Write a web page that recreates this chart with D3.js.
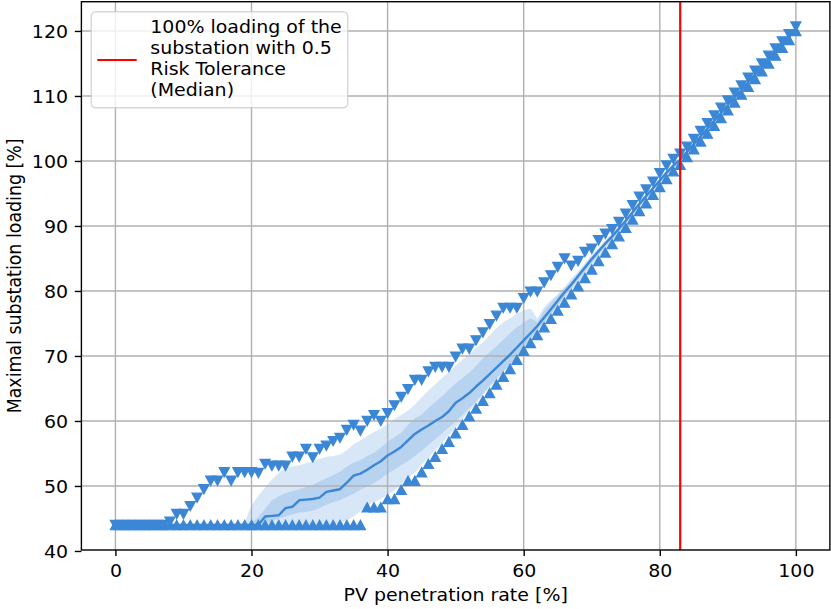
<!DOCTYPE html>
<html>
<head>
<meta charset="utf-8">
<script src="https://cdn.jsdelivr.net/npm/d3@7"></script>
<style>
  html, body { margin: 0; padding: 0; background: #ffffff; }
  svg { display: block; font-family: "DejaVu Sans", sans-serif; }
</style>
</head>
<body>
<svg id="chart" width="831" height="609"></svg>
<script>
// PV penetration rate [%] (x categories)
const pvRate = d3.range(0, 101);

// Maximal substation loading [%] across scenarios, per penetration rate
const maxLoad = [
  44.0, 44.0, 44.0, 44.0, 44.0, 44.0, 44.0, 44.0, 44.5, 45.7,
  45.7, 46.9, 48.2, 49.5, 50.8, 50.8, 52.1, 50.8, 52.1, 52.1,
  52.1, 52.0, 53.4, 53.1, 53.1, 53.1, 54.5, 54.5, 55.7, 54.4,
  55.7, 56.2, 56.9, 57.4, 58.6, 59.4, 58.5, 60.0, 60.9, 60.0,
  61.2, 62.4, 63.7, 64.9, 66.3, 66.3, 67.6, 68.3, 68.3, 68.3,
  69.9, 71.1, 71.1, 72.4, 73.6, 74.9, 76.2, 77.4, 77.4, 77.4,
  78.9, 79.9, 79.9, 81.3, 82.4, 83.7, 85.0, 83.9, 84.6, 86.0,
  86.5, 87.8, 88.8, 89.5, 90.6, 91.9, 93.2, 94.5, 95.6, 96.8,
  98.1, 99.3, 100.3, 101.1, 102.2, 103.4, 104.6, 105.8, 107.0, 108.2,
  109.3, 110.5, 111.6, 112.8, 113.9, 115.0, 116.2, 117.3, 118.4, 119.5,
  120.7
];

const minLoad = [
  44.0, 44.0, 44.0, 44.0, 44.0, 44.0, 44.0, 44.0, 44.0, 44.0,
  44.0, 44.0, 44.0, 44.0, 44.0, 44.0, 44.0, 44.0, 44.0, 44.0,
  44.0, 44.0, 44.0, 44.0, 44.0, 44.0, 44.0, 44.0, 44.0, 44.0,
  44.0, 44.0, 44.0, 44.0, 44.0, 44.0, 44.0, 46.7, 46.7, 46.7,
  48.0, 48.0, 49.4, 50.8, 50.8, 52.1, 53.4, 54.5, 55.7, 56.8,
  58.1, 59.4, 60.7, 61.9, 63.1, 64.3, 65.6, 66.8, 68.0, 69.4,
  70.8, 72.0, 73.2, 74.4, 75.7, 77.0, 78.2, 79.5, 80.7, 82.0,
  83.3, 84.6, 85.9, 87.2, 88.4, 89.7, 91.0, 92.3, 93.5, 94.8,
  96.0, 97.2, 98.4, 99.4, 100.6, 101.8, 103.0, 104.2, 105.4, 106.6,
  107.8, 109.0, 110.2, 111.4, 112.6, 113.8, 115.0, 116.2, 117.4, 118.6,
  120.0
];

const medianLoad = [
  44.0, 44.0, 44.0, 44.0, 44.0, 44.0, 44.0, 44.0, 44.0, 44.0,
  44.0, 44.0, 44.0, 44.0, 44.0, 44.0, 44.0, 44.0, 44.0, 44.0,
  44.0, 44.0, 45.3, 45.4, 45.5, 46.6, 46.8, 47.8, 47.9, 48.0,
  48.2, 49.1, 49.3, 49.5, 50.5, 51.6, 51.9, 52.5, 53.2, 53.8,
  54.7, 55.3, 56.0, 57.0, 58.0, 58.7, 59.3, 60.0, 60.6, 61.5,
  62.8, 63.5, 64.3, 65.3, 66.2, 67.2, 68.2, 69.2, 70.2, 71.3,
  72.4, 73.5, 74.6, 75.9, 77.2, 78.5, 79.8, 81.0, 82.3, 83.6,
  84.9, 86.1, 87.3, 88.4, 89.6, 90.8, 92.1, 93.4, 94.6, 95.8,
  97.0, 98.2, 99.3, 100.2, 101.4, 102.6, 103.8, 105.0, 106.2, 107.4,
  108.6, 109.8, 110.9, 112.1, 113.3, 114.4, 115.6, 116.8, 117.9, 119.1,
  120.3
];

// Outer percentile band (lower / upper)
const outerLow = [
  44.0, 44.0, 44.0, 44.0, 44.0, 44.0, 44.0, 44.0, 44.0, 44.0,
  44.0, 44.0, 44.0, 44.0, 44.0, 44.0, 44.0, 44.0, 44.0, 44.0,
  44.0, 44.0, 44.0, 44.0, 44.0, 44.0, 44.0, 44.0, 44.0, 44.0,
  44.0, 44.0, 44.0, 44.2, 44.7, 45.3, 46.1, 47.0, 47.5, 48.0,
  48.7, 49.3, 50.3, 51.3, 52.0, 53.3, 54.3, 55.5, 56.6, 57.8,
  59.0, 60.3, 61.5, 62.7, 64.0, 65.2, 66.2, 67.4, 68.6, 69.9,
  71.2, 72.4, 73.6, 74.9, 76.1, 77.4, 78.7, 80.0, 81.2, 82.5,
  83.8, 85.1, 86.4, 87.6, 88.8, 90.1, 91.4, 92.7, 93.9, 95.1,
  96.3, 97.5, 98.7, 99.7, 100.9, 102.1, 103.3, 104.5, 105.7, 106.9,
  108.1, 109.3, 110.5, 111.7, 112.9, 114.1, 115.3, 116.5, 117.6, 118.8,
  120.1
];

const outerHigh = [
  44.0, 44.0, 44.0, 44.0, 44.0, 44.0, 44.0, 44.0, 44.0, 44.0,
  44.0, 44.0, 44.0, 44.0, 44.0, 44.0, 44.0, 44.0, 44.0, 44.5,
  47.0, 48.5, 49.8, 51.0, 52.0, 52.8, 53.0, 53.2, 53.5, 53.8,
  54.2, 54.5, 54.6, 54.8, 55.5, 56.4, 57.0, 57.7, 58.3, 58.8,
  59.5, 60.3, 60.9, 61.6, 62.5, 63.6, 64.7, 65.6, 66.6, 67.5,
  68.5, 69.4, 70.3, 71.2, 72.1, 73.2, 74.3, 75.2, 75.8, 76.5,
  77.0, 77.3, 75.8, 77.5, 78.6, 79.5, 80.6, 81.9, 83.0, 84.3,
  85.6, 86.7, 87.8, 88.9, 90.0, 91.2, 92.4, 93.7, 94.9, 96.1,
  97.3, 98.5, 99.6, 100.5, 101.7, 102.9, 104.1, 105.3, 106.5, 107.7,
  108.9, 110.0, 111.1, 112.3, 113.5, 114.6, 115.8, 117.0, 118.1, 119.3,
  120.4
];

// Inner (interquartile) band (lower / upper)
const innerLow = [
  44.0, 44.0, 44.0, 44.0, 44.0, 44.0, 44.0, 44.0, 44.0, 44.0,
  44.0, 44.0, 44.0, 44.0, 44.0, 44.0, 44.0, 44.0, 44.0, 44.0,
  44.0, 44.0, 44.2, 44.6, 45.0, 45.3, 45.6, 45.9, 46.0, 46.2,
  46.6, 47.1, 47.5, 47.8, 48.3, 48.8, 49.4, 49.9, 50.4, 51.1,
  51.9, 52.5, 53.2, 53.8, 54.6, 55.4, 56.3, 57.2, 58.1, 59.0,
  59.9, 60.9, 61.9, 63.0, 64.2, 65.4, 66.5, 67.6, 68.7, 70.0,
  71.5, 72.7, 73.9, 75.2, 76.5, 77.8, 79.1, 80.4, 81.7, 83.0,
  84.3, 85.6, 86.8, 87.9, 89.1, 90.4, 91.7, 93.0, 94.2, 95.4,
  96.6, 97.8, 98.9, 99.9, 101.1, 102.3, 103.5, 104.7, 105.9, 107.1,
  108.3, 109.5, 110.7, 111.9, 113.1, 114.2, 115.4, 116.6, 117.7, 118.9,
  120.2
];

const innerHigh = [
  44.0, 44.0, 44.0, 44.0, 44.0, 44.0, 44.0, 44.0, 44.0, 44.0,
  44.0, 44.0, 44.0, 44.0, 44.0, 44.0, 44.0, 44.0, 44.0, 44.0,
  44.4, 45.2, 46.5, 47.8, 48.4, 48.9, 49.2, 49.5, 49.8, 50.2,
  50.7, 51.2, 51.7, 52.2, 53.0, 53.6, 54.0, 54.6, 55.1, 55.9,
  56.8, 57.5, 58.2, 59.4, 60.4, 61.0, 62.0, 62.9, 63.8, 64.8,
  65.8, 66.6, 67.4, 68.5, 69.6, 70.6, 71.5, 72.5, 73.5, 74.4,
  75.1, 75.8, 75.2, 77.0, 78.2, 79.3, 80.4, 81.5, 82.7, 84.0,
  85.3, 86.4, 87.6, 88.7, 89.8, 91.0, 92.3, 93.6, 94.8, 96.0,
  97.2, 98.4, 99.5, 100.4, 101.6, 102.8, 104.0, 105.2, 106.4, 107.6,
  108.8, 109.9, 111.0, 112.2, 113.4, 114.5, 115.7, 116.9, 118.0, 119.2,
  120.35
];

const xTicks = [0, 20, 40, 60, 80, 100];
const yTicks = [40, 50, 60, 70, 80, 90, 100, 110, 120];
const thresholdRate = 83;
const legendLines = ["100% loading of the", "substation with 0.5", "Risk Tolerance", "(Median)"];
const xLabel = "PV penetration rate [%]";
const yLabel = "Maximal substation loading [%]";

// ---- styling ----
const blue = "#3b87d5";
const red = "#ff0000";
const gridColor = "#b0b0b0";
const fontSize = 17.4;
const sx = 1.09;           // horizontal text stretch
const plot = { left: 81.4, right: 829.9, top: 1.7, bottom: 550 };

const svg = d3.select("#chart");

const x = d3.scaleLinear().domain([-5, 105]).range([plot.left, plot.right]);
const y = d3.scaleLinear().domain([40.15, 124.5]).range([plot.bottom, plot.top]);

const rows = pvRate.map((p, i) => ({
  p, max: maxLoad[i], min: minLoad[i], med: medianLoad[i],
  oLo: outerLow[i], oHi: outerHigh[i], iLo: innerLow[i], iHi: innerHigh[i]
}));

svg.append("clipPath").attr("id", "plotClip")
  .append("rect")
  .attr("x", plot.left).attr("y", plot.top)
  .attr("width", plot.right - plot.left).attr("height", plot.bottom - plot.top);

const body = svg.append("g").attr("clip-path", "url(#plotClip)");

// percentile bands
body.append("path")
  .datum(rows)
  .attr("fill", blue).attr("fill-opacity", 0.2)
  .attr("d", d3.area().x(d => x(d.p)).y0(d => y(d.oLo)).y1(d => y(d.oHi)));

body.append("path")
  .datum(rows)
  .attr("fill", blue).attr("fill-opacity", 0.2)
  .attr("d", d3.area().x(d => x(d.p)).y0(d => y(d.iLo)).y1(d => y(d.iHi)));

// grid
const grid = body.append("g").attr("stroke", gridColor).attr("stroke-width", 1.4);
grid.selectAll("line.gx").data(xTicks).join("line")
  .attr("x1", d => x(d)).attr("x2", d => x(d))
  .attr("y1", plot.top).attr("y2", plot.bottom);
grid.selectAll("line.gy").data(yTicks).join("line")
  .attr("x1", plot.left).attr("x2", plot.right)
  .attr("y1", d => y(d)).attr("y2", d => y(d));

// median line
body.append("path")
  .datum(rows)
  .attr("fill", "none").attr("stroke", blue).attr("stroke-width", 2.4)
  .attr("stroke-linejoin", "round")
  .attr("d", d3.line().x(d => x(d.p)).y(d => y(d.med)));

// triangle markers: max (pointing down), min (pointing up)
const mh = 4.5, mw = 4.9;
const downTri = `M0,${mh}L${-mw},${-mh}L${mw},${-mh}Z`;
const upTri = `M0,${-mh}L${-mw},${mh}L${mw},${mh}Z`;

body.append("g").selectAll("path").data(rows).join("path")
  .attr("d", downTri)
  .attr("transform", d => `translate(${x(d.p)},${y(d.max)})`)
  .attr("fill", blue).attr("stroke", blue).attr("stroke-width", 1.4)
  .attr("stroke-linejoin", "miter");

body.append("g").selectAll("path").data(rows).join("path")
  .attr("d", upTri)
  .attr("transform", d => `translate(${x(d.p)},${y(d.min)})`)
  .attr("fill", blue).attr("stroke", blue).attr("stroke-width", 1.4)
  .attr("stroke-linejoin", "miter");

// threshold line
body.append("line")
  .attr("x1", x(thresholdRate)).attr("x2", x(thresholdRate))
  .attr("y1", plot.top).attr("y2", plot.bottom)
  .attr("stroke", red).attr("stroke-width", 2.2);

// spines
svg.append("rect")
  .attr("x", plot.left).attr("y", plot.top)
  .attr("width", plot.right - plot.left).attr("height", plot.bottom - plot.top)
  .attr("fill", "none").attr("stroke", "#000").attr("stroke-width", 1.4);

// axes
const xAxis = svg.append("g")
  .attr("transform", `translate(0,${plot.bottom})`)
  .call(d3.axisBottom(x).tickValues(xTicks).tickFormat(d3.format("d"))
        .tickSize(6.1).tickPadding(8.1));
xAxis.select(".domain").remove();
xAxis.selectAll("line").attr("stroke", "#000").attr("stroke-width", 1.4);
xAxis.attr("font-family", null).attr("font-size", null);
xAxis.selectAll("text")
  .attr("fill", "#000")
  .style("font-size", fontSize + "px")
  .attr("transform", `scale(${sx},1)`);

const yAxis = svg.append("g")
  .attr("transform", `translate(${plot.left},0)`)
  .call(d3.axisLeft(y).tickValues(yTicks).tickFormat(d3.format("d"))
        .tickSize(6.6).tickPadding(6));
yAxis.select(".domain").remove();
yAxis.selectAll("line").attr("stroke", "#000").attr("stroke-width", 1.4);
yAxis.attr("font-family", null).attr("font-size", null);
yAxis.selectAll("text")
  .attr("fill", "#000")
  .style("font-size", fontSize + "px")
  .attr("x", -13.4 / sx)
  .attr("dy", "0.36em")
  .attr("transform", `scale(${sx},1)`);

// axis titles
svg.append("g")
  .attr("transform", `translate(${(plot.left + plot.right) / 2},601) scale(${sx},1)`)
  .append("text")
  .attr("text-anchor", "middle")
  .style("font-size", fontSize + "px")
  .text(xLabel);

svg.append("g")
  .attr("transform", `translate(21,${(plot.top + plot.bottom) / 2}) scale(${sx},1) rotate(-90)`)
  .append("text")
  .attr("text-anchor", "middle")
  .style("font-size", fontSize + "px")
  .text(yLabel);

// legend
const legend = svg.append("g");
legend.append("rect")
  .attr("x", 91.2).attr("y", 11.7).attr("width", 256.5).attr("height", 96)
  .attr("rx", 4.5).attr("ry", 4.5)
  .attr("fill", "#ffffff").attr("fill-opacity", 0.8)
  .attr("stroke", "#cccccc").attr("stroke-opacity", 0.8).attr("stroke-width", 1.4);
legend.append("line")
  .attr("x1", 97.3).attr("x2", 136.7).attr("y1", 60).attr("y2", 60)
  .attr("stroke", red).attr("stroke-width", 2.2);
legendLines.forEach((t, i) => {
  legend.append("g")
    .attr("transform", `translate(150.3,${33.3 + i * 20.8}) scale(${sx},1)`)
    .append("text")
    .style("font-size", fontSize + "px")
    .text(t);
});
</script>
</body>
</html>
